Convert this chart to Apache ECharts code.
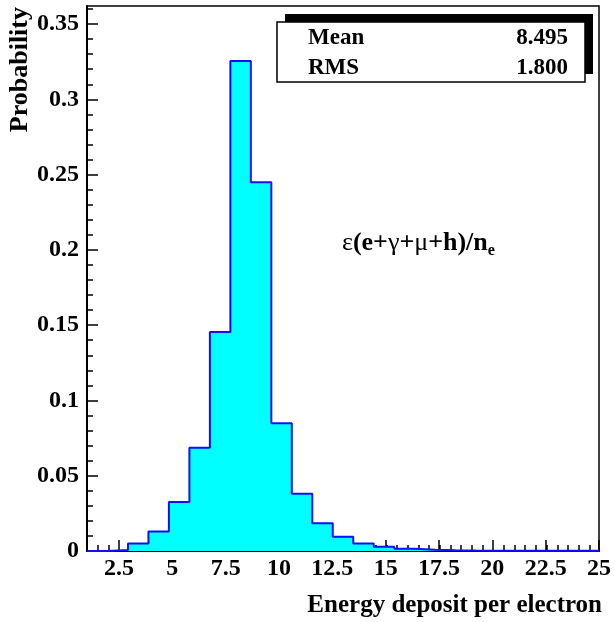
<!DOCTYPE html>
<html>
<head>
<meta charset="utf-8">
<script src="https://cdn.jsdelivr.net/npm/echarts@6/dist/echarts.min.js"></script>
<style>
  html, body { margin: 0; padding: 0; background: #fff; }
  #main { width: 614px; height: 622px; }
</style>
</head>
<body>
<div id="main"></div>
<script>
// histogram: 25 bins between xMin and xMax
var xMin = 1;
var xMax = 25;
var binWidth = 0.96;
var probs = [0, 0.0007, 0.005, 0.013, 0.0326, 0.0685, 0.1454, 0.3254, 0.245, 0.0848,
    0.0381, 0.0185, 0.0095, 0.005, 0.0029, 0.0015, 0.0009, 0.0005, 0.0003, 0.0002,
    0.0002, 0.0001, 0.0001, 0.0001, 0.0001];

var xTicks = [2.5, 5, 7.5, 10, 12.5, 15, 17.5, 20, 22.5, 25];
var yTicks = [0, 0.05, 0.1, 0.15, 0.2, 0.25, 0.3, 0.35];
var yMax = 0.362;

var statNames = ['Mean', 'RMS'];
var statValues = ['8.495', '1.800'];

var FONT = '"Liberation Serif", "Times New Roman", serif';

// step points at bin edges
var histData = [];
for (var i = 0; i < probs.length; i++) {
    histData.push([xMin + i * binWidth, probs[i]]);
}
histData.push([xMax, probs[probs.length - 1]]);

// minor ticks
var xMinor = [];
for (var v = xMin + 0.5; v < xMax; v += 0.5) xMinor.push(+v.toFixed(2));
var yMinor = [];
for (var k = 1; k <= 36; k++) yMinor.push(+(k * 0.01).toFixed(2));

var gridBox = { left: 87, right: 14, top: 6, bottom: 71 };

var statGraphics = [
    { type: 'rect', shape: { x: 285, y: 14, width: 308, height: 60 }, style: { fill: '#000' }, z: 10 },
    { type: 'rect', shape: { x: 277, y: 22, width: 308, height: 60 }, style: { fill: '#fff', stroke: '#000', lineWidth: 1.5 }, z: 11 }
];
statNames.forEach(function (name, idx) {
    statGraphics.push({
        type: 'text', x: 308, y: 38 + idx * 30, z: 12,
        style: { text: name, font: 'bold 23px ' + FONT, fill: '#000', textAlign: 'left', textVerticalAlign: 'middle' }
    });
    statGraphics.push({
        type: 'text', x: 568, y: 38 + idx * 30, z: 12,
        style: { text: statValues[idx], font: 'bold 23px ' + FONT, fill: '#000', textAlign: 'right', textVerticalAlign: 'middle' }
    });
});

var option = {
    animation: false,
    backgroundColor: '#fff',
    grid: [
        Object.assign({ show: true, borderColor: '#000', borderWidth: 1.5, backgroundColor: 'transparent' }, gridBox),
        Object.assign({ show: false }, gridBox)
    ],
    xAxis: [
        {
            type: 'value', gridIndex: 0, min: xMin, max: xMax,
            axisLine: { show: true, onZero: false, lineStyle: { color: '#000', width: 2 } },
            axisTick: { show: true, inside: true, length: 11, customValues: xTicks, lineStyle: { color: '#000', width: 1.5 } },
            axisLabel: {
                customValues: xTicks, color: '#000', fontFamily: FONT, fontWeight: 'bold', fontSize: 24, margin: 6
            },
            splitLine: { show: false }
        },
        {
            type: 'value', gridIndex: 1, min: xMin, max: xMax,
            axisLine: { show: false },
            axisTick: { show: true, inside: true, length: 6, customValues: xMinor, lineStyle: { color: '#000', width: 1.5 } },
            axisLabel: { show: false },
            splitLine: { show: false }
        }
    ],
    yAxis: [
        {
            type: 'value', gridIndex: 0, min: 0, max: yMax,
            axisLine: { show: true, onZero: false, lineStyle: { color: '#000', width: 2 } },
            axisTick: { show: true, inside: true, length: 11, customValues: yTicks, lineStyle: { color: '#000', width: 1.5 } },
            axisLabel: {
                customValues: yTicks, color: '#000', fontFamily: FONT, fontWeight: 'bold', fontSize: 24, margin: 8
            },
            splitLine: { show: false }
        },
        {
            type: 'value', gridIndex: 1, min: 0, max: yMax,
            axisLine: { show: false },
            axisTick: { show: true, inside: true, length: 6, customValues: yMinor, lineStyle: { color: '#000', width: 1.5 } },
            axisLabel: { show: false },
            splitLine: { show: false }
        }
    ],
    series: [
        {
            type: 'line',
            xAxisIndex: 0, yAxisIndex: 0,
            step: 'end',
            symbol: 'none',
            data: histData,
            lineStyle: { color: '#1010ff', width: 2 },
            areaStyle: { color: '#00ffff', opacity: 1 }
        }
    ],
    graphic: [
        {
            type: 'text', x: 20, y: 7, rotation: Math.PI / 2,
            style: { text: 'Probability', font: 'bold 26px ' + FONT, fill: '#000', textAlign: 'right', textVerticalAlign: 'middle' }
        },
        {
            type: 'text', x: 602, y: 606,
            style: { text: 'Energy deposit per electron', font: 'bold 25px ' + FONT, fill: '#000', textAlign: 'right', textVerticalAlign: 'middle' }
        },
        {
            type: 'text', x: 342, y: 227,
            style: {
                text: '{g|ε}{b|(e+}{g|γ}{b|+}{g|μ}{b|+h)/n}{s|e}',
                rich: {
                    g: { fontFamily: FONT, fontSize: 26, fontWeight: 'normal', lineHeight: 32, fill: '#000' },
                    b: { fontFamily: FONT, fontSize: 26, fontWeight: 'bold', lineHeight: 32, fill: '#000' },
                    s: { fontFamily: FONT, fontSize: 16, fontWeight: 'bold', lineHeight: 32, verticalAlign: 'bottom', fill: '#000' }
                },
                textAlign: 'left', textVerticalAlign: 'top'
            }
        }
    ].concat(statGraphics)
};

var chart = echarts.init(document.getElementById('main'), null, { renderer: 'canvas' });
chart.setOption(option);
</script>
</body>
</html>
